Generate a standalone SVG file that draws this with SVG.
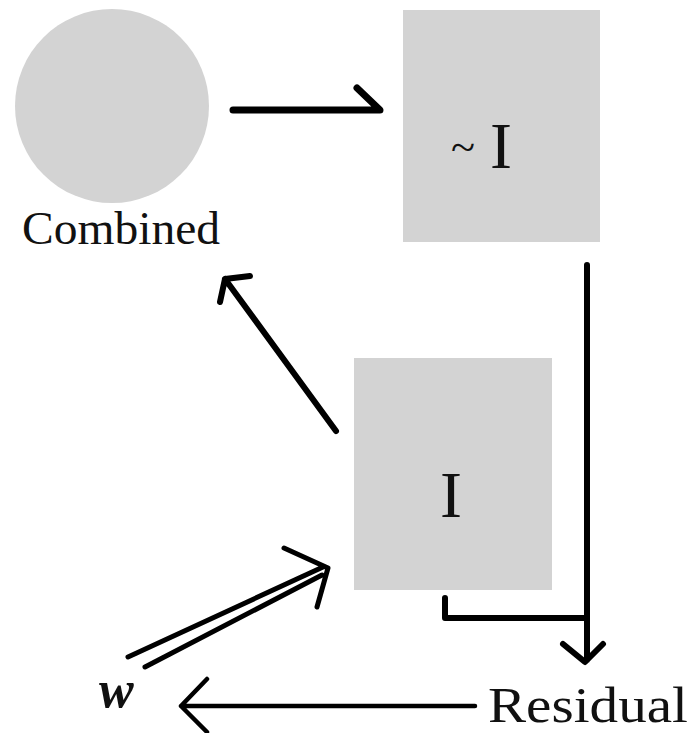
<svg xmlns="http://www.w3.org/2000/svg" width="700" height="733" viewBox="0 0 700 733">
<style>
.node{fill:#d3d3d3}
.lbl{font-family:"Liberation Serif","Times New Roman",serif;fill:#111}
.c{fill:none;stroke:#000;stroke-linecap:round;stroke-linejoin:round}
</style>
<rect width="700" height="733" fill="#fff"/>
<g id="combined">
<circle class="node" cx="112" cy="106" r="97"/>
<text class="lbl" x="22" y="244" font-size="46" textLength="198" lengthAdjust="spacingAndGlyphs">Combined</text>
</g>
<g id="not-I">
<rect class="node" x="403" y="10" width="197" height="232"/>
<text class="lbl" x="451" y="161" font-size="42" textLength="24" lengthAdjust="spacingAndGlyphs">~</text>
<text class="lbl" x="490" y="168" font-size="66">I</text>
</g>
<g id="I">
<rect class="node" x="354" y="358" width="198" height="232"/>
<text class="lbl" x="440" y="517" font-size="66">I</text>
</g>
<g id="w">
<text class="lbl" x="99" y="707" font-size="52" font-weight="bold" font-style="italic">w</text>
</g>
<g id="residual">
<text class="lbl" x="488" y="722" font-size="50" textLength="200" lengthAdjust="spacingAndGlyphs">Residual</text>
</g>
<g id="connectors">
<path class="c" stroke-width="7" d="M233 110 H380 L357 88"/>
<path class="c" stroke-width="6" d="M336 431 L225 279 M250 276 L225 279 L220 302"/>
<path class="c" stroke-width="6" d="M587 265 V660 M563 644 L585 662 L603 644"/>
<path class="c" stroke-width="6" d="M445 598 V618 H585"/>
<path class="c" stroke-width="5" d="M128 657 L323 567 M145 667 L322 575 M284 548 L328 568 L317 607"/>
<path class="c" stroke-width="4.5" d="M475 706 H181 M207 679 L181 706 L207 732"/>
</g>
</svg>
